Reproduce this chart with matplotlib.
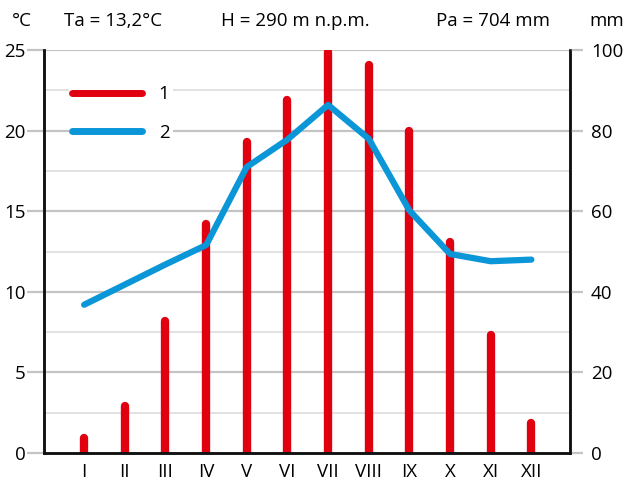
import matplotlib.pyplot as plt
from matplotlib.lines import Line2D

plt.rcParams['font.family'] = ['Open Sans', 'DejaVu Sans']

months = ['I', 'II', 'III', 'IV', 'V', 'VI', 'VII', 'VIII', 'IX', 'X', 'XI', 'XII']
# red bars (read on the left scale)
precip = [0.95, 2.9, 8.2, 14.2, 19.3, 21.9, 24.9, 24.1, 20.0, 13.1, 7.3, 1.85]
# blue line
temp = [9.2, 10.45, 11.7, 12.9, 17.75, 19.45, 21.6, 19.5, 15.05, 12.35, 11.9, 12.0]

red = '#e0000f'
blue = '#0a96d7'
fs = 13.5

fig = plt.figure(figsize=(6.26, 4.82), dpi=100)
ax = fig.add_axes([0.0695, 0.0602, 0.841, 0.8358])

x = list(range(1, 13))

# grid
for v in [2.5, 7.5, 12.5, 17.5, 22.5]:
    ax.axhline(v, color='#dddddd', lw=1.2, zorder=0)
for v in [5, 10, 15, 20, 25]:
    ax.axhline(v, color='#c4c4c4', lw=1.6, zorder=0)

ax.vlines(x, 0, precip, color=red, lw=6, capstyle='round', zorder=3)
ax.plot(x, temp, color=blue, lw=4.5, solid_capstyle='round', solid_joinstyle='round', zorder=4)

ax.set_xlim(0, 12.95)
ax.set_ylim(0, 25)
ax.set_yticks([0, 5, 10, 15, 20, 25])
ax.set_xticks(x)
ax.set_xticklabels(months)
ax.tick_params(axis='x', length=0, pad=7, labelsize=fs)
ax.tick_params(axis='y', direction='out', length=12, width=1.6, color='#c4c4c4', labelsize=fs, pad=1)

for s in ['left', 'right', 'bottom']:
    ax.spines[s].set_linewidth(1.8)
    ax.spines[s].set_color('#111111')
    ax.spines[s].set_zorder(6)
ax.spines['top'].set_visible(False)

ax2 = ax.twinx()
ax2.set_ylim(0, 100)
ax2.set_yticks([0, 20, 40, 60, 80, 100])
ax2.tick_params(axis='y', direction='out', length=9, width=1.6, color='#c4c4c4', labelsize=fs, pad=6)
for s in ['left', 'right', 'bottom']:
    ax2.spines[s].set_linewidth(1.8)
    ax2.spines[s].set_color('#111111')
ax2.spines['top'].set_visible(False)

handles = [Line2D([], [], color=red, lw=5, solid_capstyle='round'),
           Line2D([], [], color=blue, lw=5, solid_capstyle='round')]
leg = ax.legend(handles, ['1', '2'], loc='upper left', bbox_to_anchor=(0.03, 0.945),
                handlelength=3.7, handletextpad=0.9, labelspacing=1.1,
                fontsize=fs, frameon=True, fancybox=False, borderpad=0.2)
leg.get_frame().set_edgecolor('none')
leg.get_frame().set_facecolor('white')
leg.get_frame().set_alpha(1)
leg.set_zorder(5)

ty = 0.957
fig.text(0.019, ty, '°C', fontsize=fs, va='center')
fig.text(0.102, ty, 'Ta = 13,2°C', fontsize=fs, va='center')
fig.text(0.353, ty, 'H = 290 m n.p.m.', fontsize=fs, va='center')
fig.text(0.697, ty, 'Pa = 704 mm', fontsize=fs, va='center')
fig.text(0.942, ty, 'mm', fontsize=fs, va='center')

fig.savefig('out.png', dpi=100)
